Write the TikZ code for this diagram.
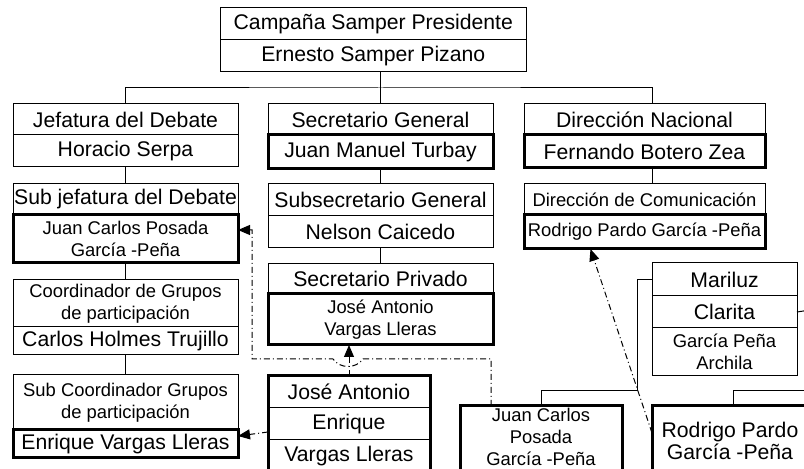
\documentclass[tikz,border=0pt]{standalone}
\usepackage{fontspec}
\setmainfont{Liberation Sans}
\usetikzlibrary{positioning,arrows.meta}
\newcommand{\bigtxt}{\fontsize{10.6}{10.8}\selectfont}
\newcommand{\smltxt}{\fontsize{9.2}{10.8}\selectfont}
\begin{document}
\begin{tikzpicture}[x=0.5pt,y=-0.5pt,
  cell/.style={draw,rectangle,inner sep=0pt,outer sep=0pt,line width=0.5pt,align=center,font=\bigtxt},
  heavy/.style={line width=1.5pt},
  lcol/.style={cell,minimum width=112.5pt},
  rcol/.style={cell,minimum width=120.5pt},
  jcol/.style={cell,minimum width=81pt},
  mcol/.style={cell,minimum width=72.5pt},
  link/.style={line width=0.5pt},
  hint/.style={line width=0.5pt,dash pattern=on 3pt off 1.5pt on 0.5pt off 1.5pt,-{Triangle[length=6pt,width=5pt]}}]
  \useasboundingbox (0,0) rectangle (804,469);
  \clip (0,0) rectangle (804,469);

  \node[cell,minimum width=152.7pt,minimum height=16pt] (root1) at (373.3,24) {Campaña Samper Presidente};
  \node[cell,minimum width=152.7pt,minimum height=16pt,below=0pt of root1] (root2) {Ernesto Samper Pizano};

  \node[lcol,minimum height=15.5pt] (jef1) at (125.5,119.5) {Jefatura del Debate};
  \node[lcol,minimum height=16pt,below=0pt of jef1] (jef2) {Horacio Serpa};
  \node[lcol,minimum height=15.5pt] (sub1) at (125.5,199.5) {Sub jefatura del Debate};
  \node[lcol,heavy,minimum height=24pt,below=0pt of sub1,font=\smltxt] (sub2) {Juan Carlos Posada\\García -Peña};
  \node[lcol,minimum height=23.5pt,font=\smltxt] (coord1) at (125.5,303.5) {Coordinador de Grupos\\de participación};
  \node[lcol,minimum height=14pt,below=0pt of coord1] (coord2) {Carlos Holmes Trujillo};
  \node[lcol,minimum height=27.5pt,font=\smltxt] (subc1) at (125.5,402.5) {Sub Coordinador Grupos\\de participación};
  \node[lcol,heavy,minimum height=14pt,below=0pt of subc1] (subc2) {Enrique Vargas Lleras};

  \node[lcol,minimum height=15.5pt] (sec1) at (380.5,119.5) {Secretario General};
  \node[lcol,heavy,minimum height=17pt,below=0pt of sec1] (sec2) {Juan Manuel Turbay};
  \node[lcol,minimum height=16pt] (subs1) at (380.5,199.5) {Subsecretario General};
  \node[lcol,minimum height=16pt,below=0pt of subs1] (subs2) {Nelson Caicedo};
  \node[lcol,minimum height=15pt] (priv1) at (380.5,279) {Secretario Privado};
  \node[lcol,heavy,minimum height=25.5pt,below=0pt of priv1,font=\smltxt] (priv2) {José Antonio\\Vargas Lleras};

  \node[jcol,minimum height=16pt] (ja1) at (349,392) {José Antonio};
  \node[jcol,minimum height=16pt,below=0pt of ja1] (ja2) {Enrique};
  \node[jcol,minimum height=16pt,below=0pt of ja2] (ja3) {Vargas Lleras};
  \draw[heavy] (ja1.north west) rectangle (ja3.south east);

  \node[rcol,minimum height=15.5pt] (dn1) at (644.5,119.5) {Dirección Nacional};
  \node[rcol,heavy,minimum height=16.5pt,below=0pt of dn1] (dn2) {Fernando Botero Zea};
  \node[rcol,minimum height=15.5pt,font=\smltxt] (com1) at (644.5,199.5) {Dirección de Comunicación};
  \node[rcol,heavy,minimum height=17pt,below=0pt of com1,font=\smltxt] (com2) {Rodrigo Pardo García -Peña};

  \node[mcol,minimum height=16.5pt] (mar1) at (724.5,279.5) {Mariluz};
  \node[mcol,minimum height=16pt,below=0pt of mar1] (mar2) {Clarita};
  \node[mcol,minimum height=24pt,below=0pt of mar2,font=\smltxt] (mar3) {García Peña\\Archila};

  \node[jcol,heavy,minimum height=35pt,font=\smltxt] (jcl) at (541,441) {};
  \node[font=\smltxt,align=center,inner sep=0pt] (jcltxt) at (541,437) {Juan Carlos\\Posada\\García -Peña};
  \node[cell,heavy,minimum width=78pt,minimum height=35pt] (rpl) at (730,441) {Rodrigo Pardo\\García -Peña};

  \coordinate (bus) at (380.5,88);
  \coordinate (mj) at (637,391);
  \coordinate (rp) at (810,391);
  \coordinate (cl) at (810,310);
  \draw[link] (root2.south -| sec1.north) -- (sec1.north);
  \draw[link] (jef1.north) |- (bus) -| ([xshift=4pt]dn1.north);
  \draw[link] (jef2) -- (sub1);
  \draw[link] (sub2) -- (coord1);
  \draw[link] (coord2) -- (subc1);
  \draw[link] (sec2) -- (subs1);
  \draw[link] (subs2) -- (priv1);
  \draw[link] ([xshift=4pt]dn2.south) -- ([xshift=4pt]com1.north);
  \draw[link] (mar1.west) -| (mj) -| (jcl.north);
  \draw[link] (rp) -| ([xshift=1.5pt]rpl.north);
  \draw[link] (mar2.east) -- (cl);

  \draw[hint] ([xshift=-25pt]jcl.north) |- (363,359) .. controls (356,369) and (340,369) .. (333,359) -- (252,359) |- ([yshift=4.5pt]sub2.east);
  \draw[hint] (ja1.north) -- (ja1.north |- priv2.south);
  \draw[hint] ([yshift=-4pt]ja2.west) -- ([yshift=4pt]subc2.east);
  \draw[hint] ([yshift=4pt]rpl.west) -- ([xshift=-27pt]com2.south);
\end{tikzpicture}
\end{document}
